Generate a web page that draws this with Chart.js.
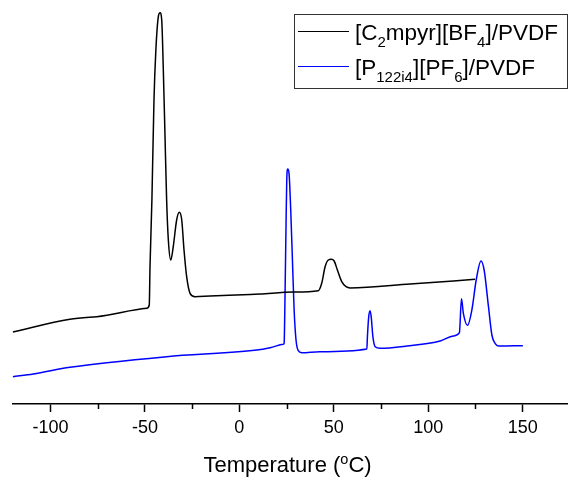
<!DOCTYPE html>
<html><head><meta charset="utf-8">
<script src="https://cdn.jsdelivr.net/npm/chart.js@4"></script>
<style>html,body{margin:0;padding:0;background:#fff}#wrap{width:568px;height:477px;position:relative}</style>
</head><body><div id="wrap"><canvas id="c"></canvas></div>
<script>
// [C2mpyr][BF4]/PVDF DSC trace (temperature in °C, heat flow in arbitrary units)
const tempC2 = [-120,-89.7,-75.5,-49.0,-47.7,-47.3,-46.3,-45.2,-44.2,-42.9,-42.0,-41.1,-40.3,-39.4,-38.5,-37.6,-36.3,-35.0,-33.2,-31.8,-30.5,-29.3,-27.9,-26.1,-23.5,-15.5,5.7,11,28.6,41.8,43.6,45.4,47.1,48.6,50.2,51.9,54.2,56.5,58.6,90.4,124.8];
const flowC2 = [7.20,8.47,8.73,9.57,9.90,13.73,20.40,30.40,35.40,38.73,39.13,38.40,33.73,27.07,20.40,16.40,14.40,15.73,18.40,19.17,18.40,15.40,12.73,11.07,10.73,10.80,10.95,11.00,11.20,11.33,12.07,13.73,14.40,14.47,14.30,13.40,12.23,11.73,11.60,12.00,12.47];
// [P122i4][PF6]/PVDF DSC trace
const tempP = [-120,-109.1,-89.7,-38.5,9.2,16.3,23.3,23.7,24.2,24.7,25.1,25.6,26.3,27.2,28.1,29.0,30.0,31.2,33.0,42.7,67.5,67.8,68.5,69.2,69.8,70.7,71.9,74.5,88.7,106.3,113.3,116.5,117.6,118.6,120.8,123.1,125.4,127.9,129.6,131.9,133.7,135.4,137.2,150.1];
const flowP = [2.73,3.00,3.67,4.73,5.40,5.63,5.97,6.07,11.07,17.73,22.40,23.50,23.07,19.40,14.40,9.40,6.40,5.33,5.13,5.23,5.50,6.73,8.73,9.33,8.73,6.73,5.73,5.57,5.80,6.30,6.80,7.13,10.53,9.07,7.87,9.40,12.40,14.30,13.40,9.73,6.90,6.07,5.80,5.83];
const xTicks = [-100,-50,0,50,100,150];
const minorTicks = [-75,-25,25,75,125];
const seriesLabels = ['[C2mpyr][BF4]/PVDF','[P122i4][PF6]/PVDF'];
const legendParts = [
  [['[C',0],['2',1],['mpyr][BF',0],['4',1],[']/PVDF',0]],
  [['[P',0],['122i4',1],['][PF',0],['6',1],[']/PVDF',0]]
];
const axisTitleParts = [['Temperature (',0],['o',2],['C)',0]];

const FONT = "'Liberation Sans', Arial, sans-serif";

function drawParts(ctx, parts, x, y, mainSize, subSize, supSize, align) {
  const fMain = mainSize + 'px ' + FONT, fSub = subSize + 'px ' + FONT, fSup = supSize + 'px ' + FONT;
  let total = 0;
  parts.forEach(p => { ctx.font = p[1] === 0 ? fMain : (p[1] === 1 ? fSub : fSup); total += ctx.measureText(p[0]).width; });
  let cx = align === 'center' ? x - total / 2 : x;
  ctx.textAlign = 'left'; ctx.textBaseline = 'alphabetic';
  parts.forEach(p => {
    let dy = 0;
    if (p[1] === 0) ctx.font = fMain;
    else if (p[1] === 1) { ctx.font = fSub; dy = 7; }
    else { ctx.font = fSup; dy = -8; }
    ctx.fillText(p[0], cx, y + dy);
    cx += ctx.measureText(p[0]).width;
  });
}

const decor = {
  id: 'decor',
  afterDraw(chart) {
    const ctx = chart.ctx, xs = chart.scales.x;
    ctx.save();
    // minor ticks
    ctx.strokeStyle = '#000'; ctx.lineWidth = 1.5;
    minorTicks.forEach(v => {
      const px = Math.round(xs.getPixelForValue(v)) + 0.5;
      ctx.beginPath(); ctx.moveTo(px, xs.top); ctx.lineTo(px, xs.top + 5); ctx.stroke();
    });
    // axis title
    ctx.fillStyle = '#000';
    drawParts(ctx, axisTitleParts, 287.5, 471.5, 22, 14.5, 14.5, 'center');
    // legend
    ctx.strokeStyle = '#333'; ctx.lineWidth = 1;
    ctx.strokeRect(294.5, 14.5, 273, 74);
    const rowY = [31.5, 66.5];
    chart.data.datasets.forEach((ds, i) => {
      ctx.strokeStyle = ds.borderColor; ctx.lineWidth = 1.2;
      ctx.beginPath(); ctx.moveTo(298, rowY[i]); ctx.lineTo(349, rowY[i]); ctx.stroke();
      ctx.fillStyle = '#000';
      drawParts(ctx, legendParts[i], 355, rowY[i] + 8.5, 22.5, 15, 15, 'left');
    });
    ctx.restore();
  }
};

new Chart(document.getElementById('c'), {
  type: 'line',
  data: {
    datasets: [
      { label: seriesLabels[0], data: tempC2.map((t, i) => ({x: t, y: flowC2[i]})), borderColor: '#000000', borderWidth: 1.5, pointRadius: 0, fill: false, cubicInterpolationMode: 'monotone' },
      { label: seriesLabels[1], data: tempP.map((t, i) => ({x: t, y: flowP[i]})), borderColor: '#0000ff', borderWidth: 1.5, pointRadius: 0, fill: false, cubicInterpolationMode: 'monotone' }
    ]
  },
  options: {
    responsive: true, maintainAspectRatio: false, animation: false, devicePixelRatio: 1,
    layout: { padding: { left: 12.7, right: 0, top: 0, bottom: 0 } },
    plugins: { legend: { display: false }, tooltip: { enabled: false } },
    scales: {
      x: {
        type: 'linear', min: -120, max: 174,
        afterBuildTicks: s => { s.ticks = xTicks.map(v => ({ value: v })); },
        afterFit: s => { s.height = 73; },
        ticks: { font: { family: FONT, size: 18 }, color: '#000', padding: 5, maxRotation: 0, autoSkip: false, includeBounds: false },
        grid: { drawOnChartArea: false, drawTicks: true, tickLength: 8, tickWidth: 1.5, tickColor: '#000' },
        border: { display: true, color: '#000', width: 1.5 },
        title: { display: false }
      },
      y: { type: 'linear', display: false, min: 0, max: 40.4 }
    }
  },
  plugins: [decor]
});
</script>
</body></html>
